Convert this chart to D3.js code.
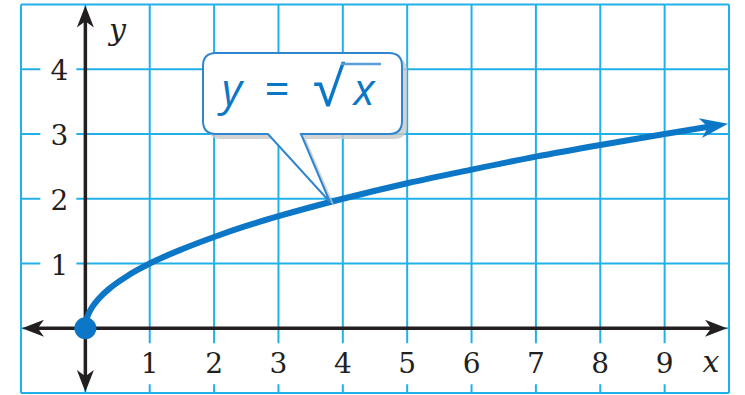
<!DOCTYPE html>
<html>
<head>
<meta charset="utf-8">
<script src="https://cdn.jsdelivr.net/npm/d3@7"></script>
<style>
  html, body { margin: 0; padding: 0; background: #fff; }
  svg { display: block; }
</style>
</head>
<body>
<svg id="chart" width="745" height="395"></svg>
<script>
// ---- data ----
const xTicks = [1, 2, 3, 4, 5, 6, 7, 8, 9];
const yTicks = [1, 2, 3, 4];
const xGrid = [-1, 0, 1, 2, 3, 4, 5, 6, 7, 8, 9, 10];
const yGrid = [-1, 0, 1, 2, 3, 4, 5];
const curveX = [0, 0.01, 0.04, 0.09, 0.16, 0.25, 0.36, 0.49, 0.64, 0.81, 1, 1.5, 2, 2.5, 3, 4, 5, 6, 7, 8, 9, 9.8];
const curveY = [0, 0.1, 0.2, 0.3, 0.4, 0.5, 0.6, 0.7, 0.8, 0.9, 1, 1.22, 1.41, 1.58, 1.73, 2, 2.24, 2.45, 2.65, 2.83, 3, 3.13];
const startPoint = [0, 0];
const calloutTarget = [3.8, 1.95];
const eqParts = ["y", "=", "√", "x"];

// ---- scales ----
const svg = d3.select("#chart");
const x = d3.scaleLinear().domain([-1, 10]).range([21, 729]);
const y = d3.scaleLinear().domain([-1, 5]).range([393, 4.5]);

const gridColor = "#22b0ea";
const curveColor = "#0b77c6";
const inkColor = "#231f20";

// ---- grid ----
const g = svg.append("g");
g.selectAll("line.v").data(xGrid).join("line")
  .attr("x1", d => x(d)).attr("x2", d => x(d))
  .attr("y1", y(5)).attr("y2", y(-1))
  .attr("stroke", gridColor).attr("stroke-width", 2);
g.selectAll("line.h").data(yGrid).join("line")
  .attr("y1", d => y(d)).attr("y2", d => y(d))
  .attr("x1", x(-1)).attr("x2", x(10))
  .attr("stroke", gridColor).attr("stroke-width", 2);

// white gaps behind tick labels
g.selectAll("rect.xg").data(xTicks).join("rect")
  .attr("x", d => x(d) - 3).attr("width", 6)
  .attr("y", y(0) + 15).attr("height", 41)
  .attr("fill", "#fff");
g.selectAll("rect.yg").data(yTicks).join("rect")
  .attr("y", d => y(d) - 3).attr("height", 6)
  .attr("x", x(0) - 45).attr("width", 36)
  .attr("fill", "#fff");

// ---- axes with arrowheads ----
function arrowHead(tipX, tipY, angle, len, wid, color) {
  const pts = [[0, 0], [-len, -wid / 2], [-len * 0.72, 0], [-len, wid / 2]];
  const c = Math.cos(angle), s = Math.sin(angle);
  const p = pts.map(([a, b]) => [tipX + a * c - b * s, tipY + a * s + b * c]);
  svg.append("path").attr("d", "M" + p.map(q => q.join(",")).join("L") + "Z")
    .attr("fill", color);
}
const axisG = svg.append("g");
axisG.append("line").attr("x1", x(-1) + 8).attr("x2", x(10) - 8)
  .attr("y1", y(0)).attr("y2", y(0)).attr("stroke", inkColor).attr("stroke-width", 3.5);
axisG.append("line").attr("x1", x(0)).attr("x2", x(0))
  .attr("y1", y(5) + 8).attr("y2", y(-1) - 8).attr("stroke", inkColor).attr("stroke-width", 3.5);
arrowHead(x(10) - 2, y(0), 0, 22, 17, inkColor);
arrowHead(x(-1) + 1, y(0), Math.PI, 22, 17, inkColor);
arrowHead(x(0), y(5) + 1, -Math.PI / 2, 22, 17, inkColor);
arrowHead(x(0), y(-1) - 1, Math.PI / 2, 22, 17, inkColor);

// ---- tick labels ----
const tickFont = "'DejaVu Serif', 'Liberation Serif', serif";
svg.selectAll("text.xt").data(xTicks).join("text")
  .attr("x", d => x(d)).attr("y", y(0) + 45)
  .attr("text-anchor", "middle")
  .attr("font-family", tickFont).attr("font-size", 28)
  .attr("fill", inkColor).text(d => d);
svg.selectAll("text.yt").data(yTicks).join("text")
  .attr("x", x(0) - 26).attr("y", d => y(d) + 11)
  .attr("text-anchor", "middle")
  .attr("font-family", tickFont).attr("font-size", 28)
  .attr("fill", inkColor).text(d => d);

// axis names
svg.append("text").attr("x", x(9.72)).attr("y", y(0) + 44)
  .attr("text-anchor", "middle")
  .attr("font-family", tickFont).attr("font-style", "italic").attr("font-size", 30)
  .attr("fill", inkColor).text("x");
svg.append("text").attr("x", x(0) + 32).attr("y", y(5) + 35)
  .attr("text-anchor", "middle")
  .attr("font-family", tickFont).attr("font-style", "italic").attr("font-size", 30)
  .attr("fill", inkColor).text("y");

// ---- curve ----
const pts = curveX.map((d, i) => [d, curveY[i]]);
const line = d3.line().x(d => x(d[0])).y(d => y(d[1])).curve(d3.curveMonotoneX);
svg.append("path").datum(pts)
  .attr("d", line)
  .attr("fill", "none").attr("stroke", curveColor)
  .attr("stroke-width", 6).attr("stroke-linecap", "round");
const last = pts[pts.length - 1], prev = pts[pts.length - 2];
const ang = Math.atan2(y(last[1]) - y(prev[1]), x(last[0]) - x(prev[0]));
arrowHead(x(last[0]) + 12 * Math.cos(ang), y(last[1]) + 12 * Math.sin(ang), ang, 28, 20, curveColor);

svg.append("circle").attr("cx", x(startPoint[0])).attr("cy", y(startPoint[1]))
  .attr("r", 11).attr("fill", curveColor);

// ---- callout ----
const bx0 = 203, by0 = 53, bx1 = 402, by1 = 134, r = 13;
const tipX = x(calloutTarget[0]), tipY = y(calloutTarget[1]);
const tl = 268, tr = 301;
const calloutPath =
  `M${bx0 + r},${by0} H${bx1 - r} Q${bx1},${by0} ${bx1},${by0 + r} V${by1 - r} Q${bx1},${by1} ${bx1 - r},${by1}` +
  ` H${tr} L${tipX},${tipY} L${tl},${by1} H${bx0 + r} Q${bx0},${by1} ${bx0},${by1 - r} V${by0 + r} Q${bx0},${by0} ${bx0 + r},${by0} Z`;
svg.append("path").attr("d", calloutPath)
  .attr("transform", "translate(5,5)")
  .attr("fill", "#c8c8c8").attr("opacity", 0.8);
svg.append("path").attr("d", calloutPath)
  .attr("fill", "#fff").attr("stroke", "#2f86cf").attr("stroke-width", 2);

const eqFont = "'Open Sans', 'Noto Sans', sans-serif";
const eqG = svg.append("g").attr("fill", curveColor).attr("font-family", eqFont);
eqG.append("text").attr("x", 232).attr("y", 105).attr("text-anchor", "middle")
  .attr("font-size", 44).attr("font-style", "italic").text(eqParts[0]);
eqG.append("text").attr("x", 277).attr("y", 105).attr("text-anchor", "middle")
  .attr("font-size", 44).text(eqParts[1]);
eqG.append("text").attr("x", 328).attr("y", 106).attr("text-anchor", "middle")
  .attr("font-size", 54).text(eqParts[2]);
eqG.append("text").attr("x", 364).attr("y", 105).attr("text-anchor", "middle")
  .attr("font-size", 44).attr("font-style", "italic").text(eqParts[3]);
svg.append("line").attr("x1", 341).attr("x2", 381).attr("y1", 64).attr("y2", 64)
  .attr("stroke", "#5a9fd8").attr("stroke-width", 2.5);
</script>
</body>
</html>
